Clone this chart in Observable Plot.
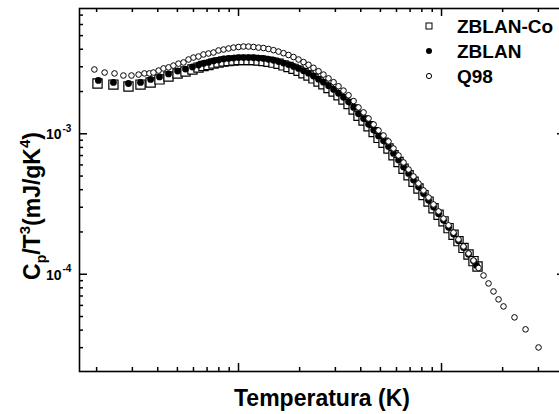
<!DOCTYPE html>
<html><head><meta charset="utf-8">
<script src="https://cdn.jsdelivr.net/npm/d3@7"></script>
<script src="https://cdn.jsdelivr.net/npm/@observablehq/plot@0.6"></script>
<style>
html,body{margin:0;padding:0;background:#fff;overflow:hidden;width:559px;height:414px;}
#chart svg{display:block;overflow:visible;max-width:none !important;}
</style></head><body><div id="chart"></div>
<script>
// ---- data (T in K, Cp/T^3 in mJ/gK^4) ----
const seriesNames = ["ZBLAN-Co", "ZBLAN", "Q98"];

const zblanCoT = [2.02, 2.42, 2.87, 3.29, 3.69, 4.08, 4.52, 5.01, 5.48, 5.93, 6.35, 6.72, 7.11, 7.53, 7.97, 8.44, 8.93, 9.45, 10.0, 10.58, 11.2, 11.86, 12.55, 13.28, 14.05, 14.87, 15.74, 16.66, 17.63, 18.66, 19.75, 20.9, 22.12, 23.4, 24.78, 26.2, 27.76, 29.4, 31.09, 32.9, 34.83, 36.9, 39.0, 41.3, 43.7, 46.3, 48.95, 51.8, 54.8, 58.0, 61.4, 65.0, 68.8, 72.8, 77.0, 81.5, 86.3, 91.3, 96.7, 102.3, 108.3, 114.6, 121.2, 128.3, 135.8, 143.7, 150.4];
const zblanCoC = [2.28e-3, 2.24e-3, 2.17e-3, 2.24e-3, 2.32e-3, 2.44e-3, 2.56e-3, 2.69e-3, 2.78e-3, 2.87e-3, 2.96e-3, 3.04e-3, 3.09e-3, 3.17e-3, 3.22e-3, 3.27e-3, 3.30e-3, 3.32e-3, 3.35e-3, 3.35e-3, 3.35e-3, 3.35e-3, 3.33e-3, 3.30e-3, 3.26e-3, 3.21e-3, 3.15e-3, 3.07e-3, 2.99e-3, 2.90e-3, 2.81e-3, 2.70e-3, 2.60e-3, 2.48e-3, 2.36e-3, 2.25e-3, 2.12e-3, 2.00e-3, 1.88e-3, 1.754e-3, 1.63e-3, 1.49e-3, 1.345e-3, 1.243e-3, 1.131e-3, 1.028e-3, 9.35e-4, 8.64e-4, 7.86e-4, 7.03e-4, 6.30e-4, 5.64e-4, 5.07e-4, 4.55e-4, 4.08e-4, 3.66e-4, 3.29e-4, 2.95e-4, 2.65e-4, 2.38e-4, 2.13e-4, 1.91e-4, 1.72e-4, 1.54e-4, 1.383e-4, 1.24e-4, 1.136e-4];

const zblanT = [2.04, 2.42, 2.87, 3.29, 3.69, 4.08, 4.52, 5.01, 5.48, 5.93, 6.35, 6.72, 7.11, 7.53, 7.97, 8.44, 8.93, 9.45, 10.0, 10.58, 11.2, 11.86, 12.55, 13.28, 14.05, 14.87, 15.74, 16.66, 17.63, 18.66, 19.75, 20.9, 22.12, 23.4, 24.78, 26.2, 27.76, 29.4, 31.09, 32.9, 34.83, 36.9, 39.0, 41.3, 43.7, 46.3, 48.95, 51.8, 54.8, 58.0, 61.4, 65.0, 68.8, 72.8, 77.0, 81.5, 86.3, 91.3, 96.7, 102.3, 108.3, 114.6, 121.2, 128.3, 135.8, 143.7, 148.7];
const zblanC = [2.40e-3, 2.32e-3, 2.28e-3, 2.32e-3, 2.44e-3, 2.54e-3, 2.67e-3, 2.80e-3, 2.89e-3, 2.99e-3, 3.09e-3, 3.17e-3, 3.22e-3, 3.30e-3, 3.35e-3, 3.41e-3, 3.44e-3, 3.46e-3, 3.49e-3, 3.49e-3, 3.49e-3, 3.48e-3, 3.46e-3, 3.44e-3, 3.39e-3, 3.34e-3, 3.27e-3, 3.19e-3, 3.11e-3, 3.02e-3, 2.92e-3, 2.81e-3, 2.70e-3, 2.58e-3, 2.45e-3, 2.33e-3, 2.20e-3, 2.07e-3, 1.94e-3, 1.82e-3, 1.69e-3, 1.54e-3, 1.39e-3, 1.285e-3, 1.168e-3, 1.062e-3, 9.66e-4, 8.92e-4, 8.11e-4, 7.25e-4, 6.50e-4, 5.81e-4, 5.22e-4, 4.68e-4, 4.19e-4, 3.75e-4, 3.36e-4, 3.01e-4, 2.70e-4, 2.42e-4, 2.16e-4, 1.935e-4, 1.73e-4, 1.55e-4, 1.388e-4, 1.245e-4, 1.155e-4];

const q98T = [1.95, 2.19, 2.45, 2.71, 2.97, 3.22, 3.44, 3.64, 3.81, 4.04, 4.27, 4.52, 4.78, 5.06, 5.36, 5.67, 6.0, 6.35, 6.72, 7.11, 7.53, 7.97, 8.44, 8.93, 9.45, 10.0, 10.58, 11.2, 11.86, 12.55, 13.28, 14.05, 14.87, 15.74, 16.66, 17.63, 18.66, 19.75, 20.9, 22.12, 23.4, 24.78, 26.2, 27.76, 29.4, 31.09, 32.9, 34.83, 36.9, 39.0, 41.3, 43.7, 46.3, 48.95, 51.8, 54.8, 58.0, 61.4, 65.0, 68.8, 72.8, 77.0, 81.5, 86.3, 91.3, 96.7, 102.3, 108.3, 114.6, 121.2, 128.3, 135.8, 143.7, 152.2, 161.0, 170.4, 180.3, 190.9, 202.0, 228.8, 259.3, 300.5];
const q98C = [2.87e-3, 2.73e-3, 2.69e-3, 2.60e-3, 2.60e-3, 2.64e-3, 2.69e-3, 2.69e-3, 2.73e-3, 2.82e-3, 2.92e-3, 2.97e-3, 3.06e-3, 3.16e-3, 3.22e-3, 3.38e-3, 3.49e-3, 3.55e-3, 3.67e-3, 3.73e-3, 3.79e-3, 3.92e-3, 3.98e-3, 4.05e-3, 4.11e-3, 4.15e-3, 4.18e-3, 4.18e-3, 4.15e-3, 4.11e-3, 4.08e-3, 4.02e-3, 3.94e-3, 3.85e-3, 3.75e-3, 3.64e-3, 3.52e-3, 3.38e-3, 3.24e-3, 3.10e-3, 2.95e-3, 2.79e-3, 2.64e-3, 2.48e-3, 2.33e-3, 2.18e-3, 2.03e-3, 1.88e-3, 1.71e-3, 1.54e-3, 1.42e-3, 1.285e-3, 1.165e-3, 1.056e-3, 9.72e-4, 8.82e-4, 7.86e-4, 7.01e-4, 6.25e-4, 5.57e-4, 4.97e-4, 4.43e-4, 3.95e-4, 3.52e-4, 3.14e-4, 2.80e-4, 2.49e-4, 2.23e-4, 1.98e-4, 1.77e-4, 1.577e-4, 1.406e-4, 1.253e-4, 1.109e-4, 9.80e-5, 8.60e-5, 7.54e-5, 6.62e-5, 5.90e-5, 4.93e-5, 4.05e-5, 3.01e-5];

// ---- ticks ----
const xMajorTicks = [10, 100];
const xMinorTicks = [2, 3, 4, 5, 6, 7, 8, 9, 20, 30, 40, 50, 60, 70, 80, 90, 200, 300, 400];
const yMajorTicks = [1e-4, 1e-3];
const yTickExponents = ["-4", "-3"];
const yMinorTicks = [3e-5, 4e-5, 5e-5, 6e-5, 7e-5, 8e-5, 9e-5, 2e-4, 3e-4, 4e-4, 5e-4, 6e-4, 7e-4, 8e-4, 9e-4, 2e-3, 3e-3, 4e-3, 5e-3, 6e-3, 7e-3];

const xLabel = "Temperatura (K)";

// ---- tables ----
const toRows = (T, C) => T.map((t, i) => ({T: t, C: C[i]}));
const zblanCo = toRows(zblanCoT, zblanCoC);
const zblan = toRows(zblanT, zblanC);
const q98 = toRows(q98T, q98C);

const W = 570, H = 414, mL = 79, mR = 5, mT = 8, mB = 43;
const pw = W - mL - mR, ph = H - mT - mB;
const font = "'Liberation Sans', Arial, Helvetica, sans-serif";

const plot = Plot.plot({
  width: W, height: H,
  marginLeft: mL, marginRight: mR, marginTop: mT, marginBottom: mB,
  style: {fontFamily: font, background: "white", color: "black", maxWidth: "none"},
  x: {type: "log", domain: [1.647, 408], axis: null},
  y: {type: "log", domain: [2.03e-5, 7.8e-3], axis: null},
  marks: [
    Plot.dot(zblanCo, {x: "T", y: "C", symbol: "square", r: 5.2, fill: "white", stroke: "black", strokeWidth: 1.2}),
    Plot.dot(zblan, {x: "T", y: "C", r: 3.4, fill: "black", stroke: "none"}),
    Plot.dot(q98, {x: "T", y: "C", r: 2.8, fill: "white", stroke: "black", strokeWidth: 1}),
    // ticks: left / right / bottom / top, inward
    Plot.tickY(yMajorTicks, {y: d => d, insetRight: pw - 8, stroke: "black", strokeWidth: 1.5}),
    Plot.tickY(yMinorTicks, {y: d => d, insetRight: pw - 4, stroke: "black", strokeWidth: 1.5}),
    Plot.tickY(yMajorTicks, {y: d => d, insetLeft: pw - 8, stroke: "black", strokeWidth: 1.5}),
    Plot.tickY(yMinorTicks, {y: d => d, insetLeft: pw - 4, stroke: "black", strokeWidth: 1.5}),
    Plot.tickX(xMajorTicks, {x: d => d, insetTop: ph - 8, stroke: "black", strokeWidth: 1.5}),
    Plot.tickX(xMinorTicks, {x: d => d, insetTop: ph - 4, stroke: "black", strokeWidth: 1.5}),
    Plot.tickX(xMajorTicks, {x: d => d, insetBottom: ph - 8, stroke: "black", strokeWidth: 1.5}),
    Plot.tickX(xMinorTicks, {x: d => d, insetBottom: ph - 4, stroke: "black", strokeWidth: 1.5}),
    Plot.frame({stroke: "black", strokeWidth: 1.6}),
    // y tick labels 10^n
    Plot.text(yMajorTicks, {y: d => d, frameAnchor: "left", dx: -18, dy: 1, text: () => "10", textAnchor: "end", fontSize: 14, fontWeight: "bold", fill: "black"}),
    Plot.text(yMajorTicks, {y: d => d, frameAnchor: "left", dx: -17, dy: -5, text: (d, i) => yTickExponents[i], textAnchor: "start", fontSize: 10, fontWeight: "bold", fill: "black"})
  ]
});
document.getElementById("chart").appendChild(plot);

const svg = d3.select(plot);
// x label
svg.append("text").attr("x", mL + pw / 2).attr("y", 406).attr("text-anchor", "middle")
  .attr("font-family", font).attr("font-size", 23).attr("font-weight", "bold").attr("fill", "black")
  .text(xLabel);
// y label with sub/superscripts
const yl = svg.append("text").attr("transform", "translate(40,206) rotate(-90)").attr("text-anchor", "middle")
  .attr("font-family", font).attr("font-size", 23).attr("font-weight", "bold").attr("fill", "black");
yl.append("tspan").text("C");
yl.append("tspan").attr("font-size", 14).attr("dy", 6).text("p");
yl.append("tspan").attr("dy", -6).text("/T");
yl.append("tspan").attr("font-size", 15).attr("dy", -10).text("3");
yl.append("tspan").attr("dy", 10).text("(mJ/gK");
yl.append("tspan").attr("font-size", 15).attr("dy", -10).text("4");
yl.append("tspan").attr("dy", 10).text(")");

// legend
const legY = [26, 51, 76];
const lg = svg.append("g");
lg.append("rect").attr("x", 426).attr("y", legY[0] - 3).attr("width", 6).attr("height", 6)
  .attr("fill", "white").attr("stroke", "black").attr("stroke-width", 1);
lg.append("circle").attr("cx", 429).attr("cy", legY[1]).attr("r", 3).attr("fill", "black");
lg.append("circle").attr("cx", 429).attr("cy", legY[2]).attr("r", 2.6).attr("fill", "white").attr("stroke", "black").attr("stroke-width", 1);
seriesNames.forEach((n, i) => {
  lg.append("text").attr("x", 457).attr("y", legY[i] + 7).attr("text-anchor", "start")
    .attr("font-family", font).attr("font-size", 19).attr("font-weight", "bold").attr("fill", "black").text(n);
});
</script>
</body></html>
